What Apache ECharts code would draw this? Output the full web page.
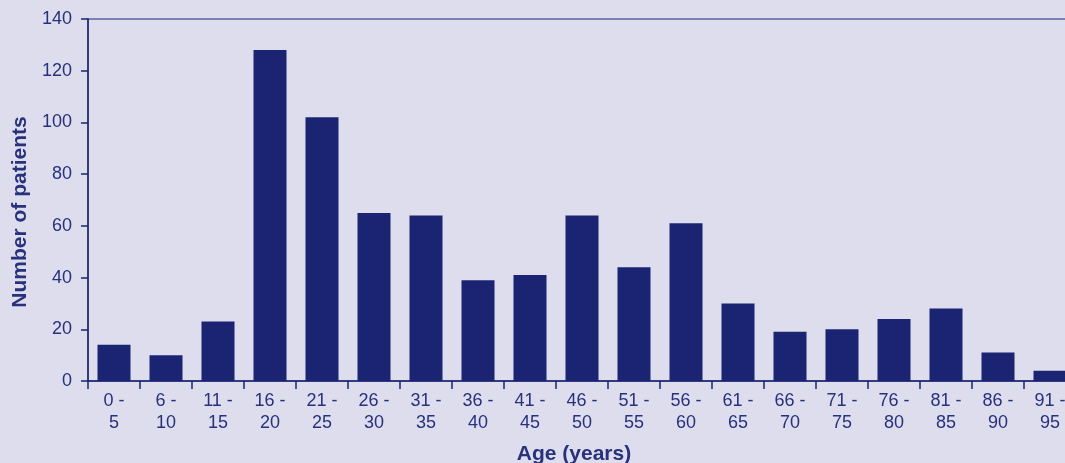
<!DOCTYPE html>
<html>
<head>
<meta charset="utf-8">
<script src="https://cdn.jsdelivr.net/npm/echarts@6/dist/echarts.min.js"></script>
<style>
html,body{margin:0;padding:0;background:#dddded;overflow:hidden;width:1065px;height:463px;}
#c{width:1076px;height:463px;}
</style>
</head>
<body>
<div id="c"></div>
<script>
var categories = ['0 -\n5','6 -\n10','11 -\n15','16 -\n20','21 -\n25','26 -\n30','31 -\n35','36 -\n40','41 -\n45','46 -\n50','51 -\n55','56 -\n60','61 -\n65','66 -\n70','71 -\n75','76 -\n80','81 -\n85','86 -\n90','91 -\n95'];
var patients = [14, 10, 23, 128, 102, 65, 64, 39, 41, 64, 44, 61, 30, 19, 20, 24, 28, 11, 4];
var yTicks = { min: 0, max: 140, interval: 20 };

var navy = '#1a2472';
var textCol = '#27317c';
var chart = echarts.init(document.getElementById('c'), null, {renderer: 'canvas'});
chart.setOption({
  backgroundColor: '#dddded',
  animation: false,
  grid: { left: 88, right: 0, top: 19, bottom: 82, outerBoundsMode: 'none', containLabel: false, show: true, borderColor: navy, borderWidth: 1, backgroundColor: 'transparent' },
  xAxis: {
    type: 'category',
    data: categories,
    name: 'Age (years)',
    nameLocation: 'middle',
    nameGap: 63,
    nameTextStyle: { fontFamily: 'Liberation Sans', fontWeight: 'bold', fontSize: 21, color: textCol, padding: [0, 16, 0, 0] },
    axisLine: { lineStyle: { color: navy, width: 1.5 } },
    axisTick: { show: true, length: 8, lineStyle: { color: navy, width: 1.5 } },
    axisLabel: { fontFamily: 'Liberation Sans', fontSize: 18, color: textCol, margin: 9, lineHeight: 22, interval: 0 }
  },
  yAxis: {
    type: 'value',
    min: yTicks.min, max: yTicks.max, interval: yTicks.interval,
    name: 'Number of patients',
    nameLocation: 'middle',
    nameGap: 56,
    nameTextStyle: { fontFamily: 'Liberation Sans', fontWeight: 'bold', fontSize: 21, color: textCol, padding: [0, 24, 0, 0] },
    splitLine: { show: false },
    axisLine: { show: true, lineStyle: { color: navy, width: 1.5 } },
    axisTick: { show: true, length: 7, lineStyle: { color: navy, width: 1.5 } },
    axisLabel: { fontFamily: 'Liberation Sans', fontSize: 18, color: textCol, margin: 16 }
  },
  series: [{
    type: 'bar',
    data: patients,
    barWidth: 33,
    itemStyle: { color: navy }
  }]
});
</script>
</body>
</html>
